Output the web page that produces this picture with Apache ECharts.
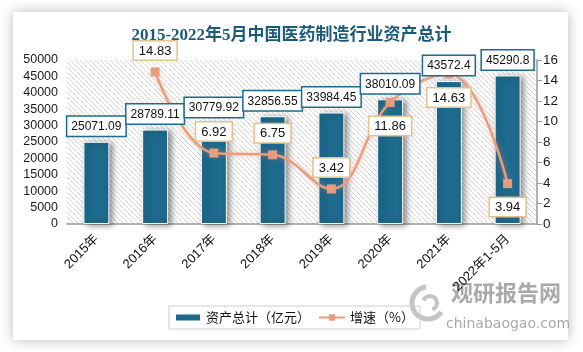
<!DOCTYPE html>
<html>
<head>
<meta charset="utf-8">
<script src="https://cdn.jsdelivr.net/npm/echarts@6/dist/echarts.min.js"></script>
<style>
  html, body { margin: 0; padding: 0; background: #fff; }
  #main { width: 583px; height: 352px; }
</style>
</head>
<body>
<div id="main"></div>
<script>
var years = ['2015年', '2016年', '2017年', '2018年', '2019年', '2020年', '2021年', '2022年1-5月']
var assets = [25071.09, 28789.11, 30779.92, 32856.55, 33984.45, 38010.09, 43572.4, 45290.8]
var growth = ['-', 14.83, 6.92, 6.75, 3.42, 11.86, 14.63, 3.94]
var leftTicks = [0, 50000, 5000]
var rightTicks = [0, 16, 2]

// where each growth label sits
var growthPos = ['top', 'top', 'top', 'top', 'top', 'bottom', 'bottom', 'bottom']

// hatched background for the plot area
function hatch() {
  var c = document.createElement('canvas')
  c.width = 5
  c.height = 5
  var ctx = c.getContext('2d')
  ctx.fillStyle = '#ffffff'
  ctx.fillRect(0, 0, 5, 5)
  ctx.strokeStyle = '#d6d6d6'
  ctx.lineWidth = 1
  ctx.beginPath()
  ctx.moveTo(-1, -1); ctx.lineTo(6, 6)
  ctx.moveTo(-1, 4); ctx.lineTo(1, 6)
  ctx.moveTo(4, -1); ctx.lineTo(6, 1)
  ctx.stroke()
  return { image: c, repeat: 'repeat' }
}

var chart = echarts.init(document.getElementById('main'), null, { renderer: 'canvas' })

var lineData = growth.map(function (v, i) {
  return {
    value: v,
    label: { position: growthPos[i], distance: growthPos[i] == 'top' ? 8 : 10 }
  }
})

var option = {
  animation: false,
  backgroundColor: '#fff',
  graphic: [{
    type: 'rect',
    z: -10,
    shape: { x: 13, y: 12, width: 555, height: 328 },
    style: { fill: '#fff', shadowBlur: 12, shadowColor: 'rgba(0,0,0,0.28)' }
  }, {
    type: 'text',
    left: 451, top: 282,
    style: { text: '观研报告网', fill: '#a9a9a9', font: 'bold 22px "Noto Sans CJK SC"' }
  }, {
    type: 'text',
    left: 446, top: 317,
    style: { text: 'chinabaogao.com', fill: '#a9a9a9', font: '14px "DejaVu Sans"' }
  }, {
    type: 'arc',
    shape: { cx: 428, cy: 303, r: 16, startAngle: 0.6, endAngle: 4.6 },
    style: { stroke: '#c4c4c4', lineWidth: 5, fill: null }
  }, {
    type: 'arc',
    shape: { cx: 430, cy: 303, r: 7, startAngle: 3.5, endAngle: 7.5 },
    style: { stroke: '#c4c4c4', lineWidth: 4, fill: null }
  }],
  title: {
    text: '2015-2022年5月中国医药制造行业资产总计',
    left: 'center',
    top: 22,
    textStyle: {
      fontFamily: '"Liberation Serif", "Noto Sans CJK SC"',
      fontWeight: 'bold',
      fontSize: 17,
      color: '#1b5a78'
    }
  },
  legend: {
    left: 169,
    top: 306,
    itemWidth: 26,
    itemHeight: 8,
    itemGap: 8,
    padding: [5, 6, 5, 5],
    borderColor: '#cfcfcf',
    borderWidth: 1,
    textStyle: { fontSize: 13, color: '#111', fontFamily: '"Noto Sans CJK SC"' },
    data: [
      { name: '资产总计（亿元）', icon: 'rect' },
      { name: '增速（%）' }
    ]
  },
  grid: {
    left: 67,
    right: 46,
    top: 60,
    bottom: 128,
    show: true,
    borderWidth: 0,
    backgroundColor: hatch()
  },
  xAxis: {
    type: 'category',
    data: years,
    axisLine: { lineStyle: { color: '#9a9a9a', width: 1.5 } },
    axisTick: { show: false },
    axisLabel: {
      rotate: 45,
      margin: 13,
      fontSize: 13,
      color: '#111',
      fontFamily: '"Liberation Sans", "Noto Sans CJK SC"'
    }
  },
  yAxis: [{
    type: 'value',
    min: leftTicks[0],
    max: leftTicks[1],
    interval: leftTicks[2],
    axisLine: { show: false },
    axisTick: { show: false },
    splitLine: { show: false },
    axisLabel: {
      fontSize: 12.5, color: '#1a1a1a', margin: 9, fontFamily: '"Liberation Sans"',
      formatter: function (v) { return String(v) }
    }
  }, {
    type: 'value',
    min: rightTicks[0],
    max: rightTicks[1],
    interval: rightTicks[2],
    axisLine: { show: true, lineStyle: { color: '#9a9a9a', width: 1.5 } },
    axisTick: { show: true, length: 5, lineStyle: { color: '#9a9a9a' } },
    splitLine: { show: false },
    axisLabel: { fontSize: 13.5, color: '#1a1a1a', margin: 6, fontFamily: '"Liberation Sans"' }
  }],
  series: [{
    name: '资产总计（亿元）',
    type: 'bar',
    data: assets,
    barWidth: 26,
    itemStyle: {
      color: '#1d6a8d',
      borderColor: '#fff',
      borderWidth: 1,
      shadowColor: 'rgba(0,0,0,0.45)',
      shadowBlur: 6,
      shadowOffsetX: 3,
      shadowOffsetY: 1
    }
  }, {
    name: '增速（%）',
    type: 'line',
    yAxisIndex: 1,
    z: 3,
    data: lineData,
    smooth: 0.4,
    symbol: 'rect',
    symbolSize: 9,
    lineStyle: {
      color: '#eb9c7c',
      width: 2.5,
      shadowColor: 'rgba(235,150,120,0.6)',
      shadowBlur: 6
    },
    itemStyle: { color: '#e89c7e' },
    label: {
      show: true,
      fontSize: 13,
      color: '#111',
      fontFamily: '"Liberation Sans"',
      backgroundColor: '#fff',
      borderColor: '#e4c08a',
      borderWidth: 1.5,
      padding: [3, 5, 2, 5]
    }
  }, {
    // transparent copy of the bars, only carries the value boxes above the line
    name: 'assetLabels',
    type: 'bar',
    data: assets,
    barWidth: 26,
    barGap: '-100%',
    z: 5,
    silent: true,
    itemStyle: { color: 'rgba(0,0,0,0)' },
    label: {
      show: true,
      position: 'top',
      distance: 6,
      fontSize: 12,
      color: '#111',
      fontFamily: '"Liberation Sans"',
      backgroundColor: '#fff',
      borderColor: '#1d6a8d',
      borderWidth: 1.5,
      padding: [4, 4, 3, 4]
    }
  }]
}

chart.setOption(option)
</script>
</body>
</html>
